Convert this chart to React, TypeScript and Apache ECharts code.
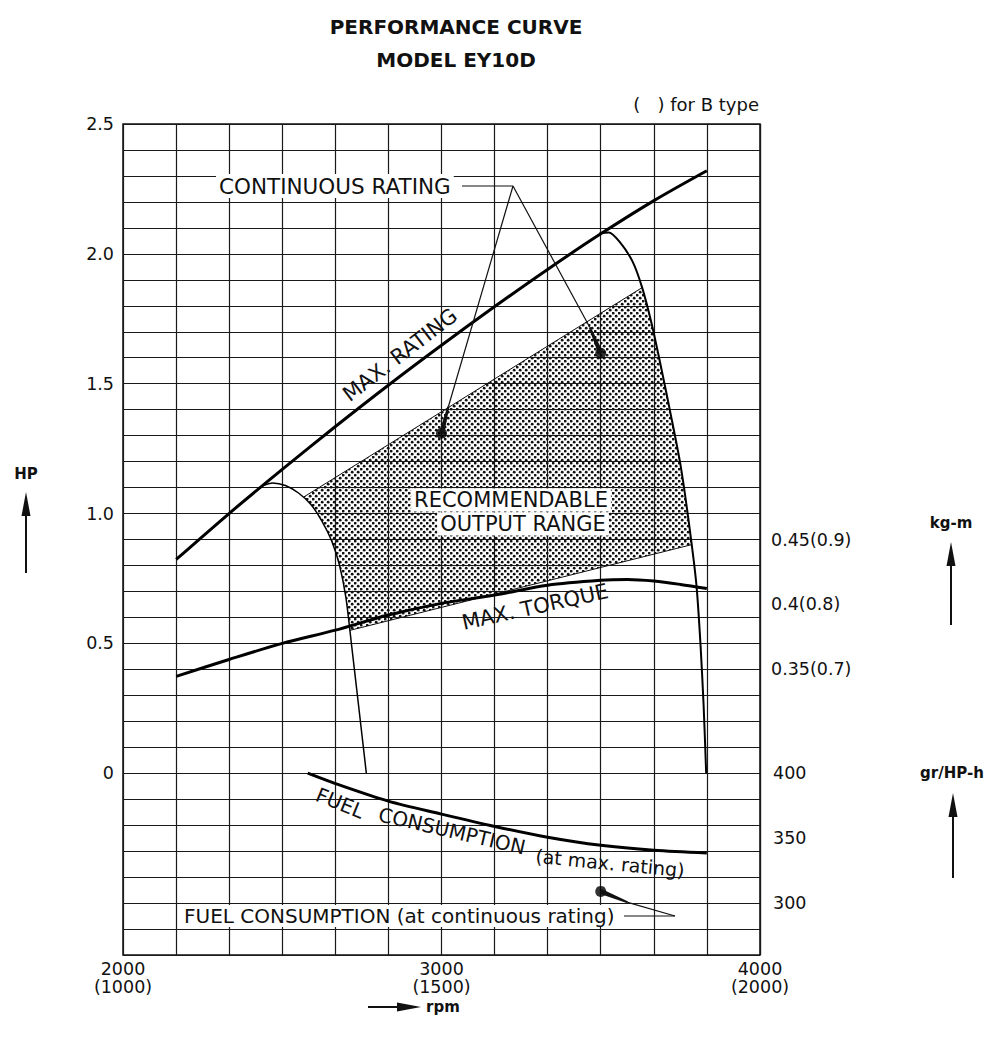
import React, { useEffect, useRef } from "react";
import * as echarts from "echarts";

const FONT = '"DejaVu Sans", "Liberation Sans", Arial, sans-serif';

// ---------- axes / tick labels ----------
const rpmTickValues = [2000, 3000, 4000];
const rpmTickLabels = ["2000\n(1000)", "3000\n(1500)", "4000\n(2000)"];
const hpTickValues = [0, 0.5, 1.0, 1.5, 2.0, 2.5];
const hpTickLabels = ["0", "0.5", "1.0", "1.5", "2.0", "2.5"];
const torqueTickValues = [0.35, 0.4, 0.45];
const torqueTickLabels = ["0.35(0.7)", "0.4(0.8)", "0.45(0.9)"];
const fuelTickValues = [300, 350, 400];
const fuelTickLabels = ["300", "350", "400"];

// ---------- series data ----------
// MAX. RATING (HP)
const maxRatingRpm = [2167, 2333, 2500, 2667, 2833, 3000, 3167, 3333, 3500, 3667, 3833];
const maxRatingHp = [0.823, 1.0, 1.17, 1.335, 1.494, 1.648, 1.797, 1.94, 2.077, 2.205, 2.32];

// governed output curve, low speed setting (HP)
const lowCurveRpm = [2435, 2470, 2510, 2550, 2590, 2625, 2655, 2680, 2700, 2718, 2735, 2750, 2764];
const lowCurveHp = [1.105, 1.118, 1.108, 1.08, 1.035, 0.97, 0.895, 0.8, 0.675, 0.49, 0.31, 0.15, 0.0];

// governed output curve, high speed setting (HP)
const highCurveRpm = [3496, 3525, 3560, 3600, 3630, 3660, 3690, 3720, 3750, 3775, 3800, 3813, 3823, 3831];
const highCurveHp = [2.079, 2.082, 2.045, 1.97, 1.87, 1.73, 1.56, 1.38, 1.19, 0.98, 0.73, 0.5, 0.26, 0.0];

// MAX. TORQUE (kg-m)
const torqueRpm = [2167, 2333, 2500, 2667, 2833, 3000, 3167, 3333, 3500, 3583, 3667, 3750, 3833];
const torqueKgm = [0.3446, 0.3576, 0.37, 0.3802, 0.3918, 0.4008, 0.4072, 0.4148, 0.4186, 0.4192, 0.418, 0.4154, 0.4122];

// FUEL CONSUMPTION at max. rating (gr/HP-h)
const fuelRpm = [2580, 2667, 2833, 3000, 3167, 3333, 3500, 3667, 3833];
const fuelMaxRating = [400, 392, 378.5, 368.5, 359, 350.7, 344.5, 340.7, 338.6];

// continuous rating points
const contRpm = [3000, 3500];
const contHp = [1.309, 1.617];
const contFuelRpm = [3500];
const contFuel = [309];

// RECOMMENDABLE OUTPUT RANGE (polygon, HP)
const rangeRpm = [2568, 3630, 3660, 3690, 3720, 3750, 3775, 3785, 2712, 2700, 2680, 2655, 2625, 2590];
const rangeHp = [1.064, 1.87, 1.73, 1.56, 1.38, 1.19, 0.98, 0.88, 0.55, 0.675, 0.8, 0.895, 0.97, 1.035];
const rangeUpperRpm = [2568, 3630];
const rangeUpperHp = [1.064, 1.87];
const rangeLowerRpm = [2712, 3785];
const rangeLowerHp = [0.55, 0.88];

const zip = (a: number[], b: number[]) => a.map((v, i) => [v, b[i]]);
const pick = (vals: number[], labels: string[], v: number, eps: number) => {
  for (let i = 0; i < vals.length; i++) if (Math.abs(vals[i] - v) < eps) return labels[i];
  return "";
};

function makePattern() {
  const c = document.createElement("canvas");
  c.width = 6;
  c.height = 6;
  const ctx = c.getContext("2d")!;
  ctx.fillStyle = "#111";
  ctx.beginPath();
  ctx.arc(1.2, 1.2, 1.4, 0, Math.PI * 2);
  ctx.fill();
  ctx.beginPath();
  ctx.arc(4.2, 4.2, 1.4, 0, Math.PI * 2);
  ctx.fill();
  return { image: c.toDataURL(), repeat: "repeat", imageWidth: 6, imageHeight: 6 };
}

export default function App() {
  const ref = useRef<HTMLDivElement>(null);
  useEffect(() => {
    if (!ref.current) return;
    const chart = echarts.init(ref.current, null, { renderer: "svg" });
    const pattern = makePattern();
    const labelStyle = { fontFamily: FONT, fontSize: 17.5, color: "#111" };
    const option: any = {
      animation: false,
      backgroundColor: "#fff",
      grid: { left: 123, right: 229, top: 124, bottom: 83, show: true, borderColor: "#111", borderWidth: 1.5, backgroundColor: "transparent" },
      xAxis: {
        type: "value",
        min: 2000,
        max: 4000,
        interval: 2000 / 12,
        axisLine: { show: false },
        axisTick: { show: false },
        splitLine: { show: true, lineStyle: { color: "#1a1a1a", width: 1.2 } },
        axisLabel: {
          ...labelStyle,
          margin: 5,
          lineHeight: 18,
          showMinLabel: true,
          showMaxLabel: true,
          formatter: (v: number) => pick(rpmTickValues, rpmTickLabels, v, 1),
        },
      },
      yAxis: [
        {
          type: "value",
          min: -0.7,
          max: 2.5,
          interval: 0.1,
          axisLine: { show: false },
          axisTick: { show: false },
          splitLine: { show: true, lineStyle: { color: "#1a1a1a", width: 1.2 } },
          axisLabel: {
            ...labelStyle,
            margin: 9,
            showMinLabel: true,
            showMaxLabel: true,
            formatter: (v: number) => pick(hpTickValues, hpTickLabels, v, 0.001),
          },
        },
        {
          type: "value",
          position: "right",
          min: 0.13,
          max: 0.77,
          interval: 0.01,
          axisLine: { show: false },
          axisTick: { show: false },
          splitLine: { show: false },
          axisLabel: {
            ...labelStyle,
            margin: 11,
            formatter: (v: number) => pick(torqueTickValues, torqueTickLabels, v, 0.0005),
          },
        },
        {
          type: "value",
          position: "right",
          min: 260,
          max: 900,
          interval: 10,
          axisLine: { show: false },
          axisTick: { show: false },
          splitLine: { show: false },
          axisLabel: {
            ...labelStyle,
            margin: 13,
            formatter: (v: number) => pick(fuelTickValues, fuelTickLabels, v, 0.5),
          },
        },
      ],
      series: [
        {
          type: "custom",
          name: "RECOMMENDABLE OUTPUT RANGE",
          yAxisIndex: 0,
          data: zip(rangeRpm, rangeHp),
          encode: { x: 0, y: 1 },
          z: 1,
          renderItem: (params: any, api: any) => {
            if (params.dataIndex !== 0) return null;
            const pts = rangeRpm.map((r, i) => api.coord([r, rangeHp[i]]));
            return { type: "polygon", shape: { points: pts }, style: { fill: pattern, stroke: null } };
          },
        },
        {
          type: "line",
          name: "range upper",
          data: zip(rangeUpperRpm, rangeUpperHp),
          symbol: "none",
          lineStyle: { color: "#111", width: 1 },
          z: 3,
        },
        {
          type: "line",
          name: "range lower",
          data: zip(rangeLowerRpm, rangeLowerHp),
          symbol: "none",
          lineStyle: { color: "#111", width: 1 },
          z: 3,
        },
        {
          type: "line",
          name: "MAX. RATING",
          data: zip(maxRatingRpm, maxRatingHp),
          symbol: "none",
          smooth: 0.3,
          lineStyle: { color: "#000", width: 3 },
          z: 4,
        },
        {
          type: "line",
          name: "low setting",
          data: zip(lowCurveRpm, lowCurveHp),
          symbol: "none",
          smooth: 0.25,
          lineStyle: { color: "#000", width: 1.5 },
          z: 4,
        },
        {
          type: "line",
          name: "high setting",
          data: zip(highCurveRpm, highCurveHp),
          symbol: "none",
          smooth: 0.25,
          lineStyle: { color: "#000", width: 2 },
          z: 4,
        },
        {
          type: "line",
          name: "MAX. TORQUE",
          yAxisIndex: 1,
          data: zip(torqueRpm, torqueKgm),
          symbol: "none",
          smooth: 0.3,
          lineStyle: { color: "#000", width: 3 },
          z: 4,
        },
        {
          type: "line",
          name: "FUEL CONSUMPTION (at max. rating)",
          yAxisIndex: 2,
          data: zip(fuelRpm, fuelMaxRating),
          symbol: "none",
          smooth: 0.3,
          lineStyle: { color: "#000", width: 3 },
          z: 4,
        },
        {
          type: "scatter",
          name: "CONTINUOUS RATING",
          data: zip(contRpm, contHp),
          symbol: "circle",
          symbolSize: 11,
          itemStyle: { color: "#000" },
          z: 6,
        },
        {
          type: "scatter",
          name: "FUEL CONSUMPTION (at continuous rating)",
          yAxisIndex: 2,
          data: zip(contFuelRpm, contFuel),
          symbol: "circle",
          symbolSize: 11,
          itemStyle: { color: "#000" },
          z: 6,
        },
      ],
    };
    chart.setOption(option);

    const px = (x: number, y: number, yi = 0) =>
      chart.convertToPixel({ xAxisIndex: 0, yAxisIndex: yi } as any, [x, y]) as number[];

    const txt = (text: string, x: number, y: number, o: any = {}) => ({
      type: "text",
      x,
      y,
      rotation: o.rot || 0,
      z: 50,
      style: {
        text,
        x: 0,
        y: 0,
        font: `${o.weight || "normal"} ${o.size || 20}px ${FONT}`,
        fill: "#111",
        align: o.align || "center",
        verticalAlign: "middle",
        backgroundColor: o.bg || undefined,
        padding: o.bg ? [1, 3, 1, 3] : undefined,
      },
    });
    const ln = (x1: number, y1: number, x2: number, y2: number, w = 1) => ({
      type: "line",
      z: 40,
      shape: { x1, y1, x2, y2 },
      style: { stroke: "#111", lineWidth: w },
    });
    const wedge = (x1: number, y1: number, x2: number, y2: number, w1: number, w2: number) => {
      const dx = x2 - x1, dy = y2 - y1;
      const L = Math.hypot(dx, dy) || 1;
      const nx = -dy / L, ny = dx / L;
      return {
        type: "polygon",
        z: 41,
        shape: {
          points: [
            [x1 + nx * w1, y1 + ny * w1],
            [x2 + nx * w2, y2 + ny * w2],
            [x2 - nx * w2, y2 - ny * w2],
            [x1 - nx * w1, y1 - ny * w1],
          ],
        },
        style: { fill: "#111" },
      };
    };
    const arrow = (x1: number, y1: number, x2: number, y2: number) => {
      const dx = x2 - x1, dy = y2 - y1;
      const L = Math.hypot(dx, dy);
      const ux = dx / L, uy = dy / L;
      const hl = 24, hw = 4.5;
      const bx = x2 - ux * hl, by = y2 - uy * hl;
      return [
        ln(x1, y1, bx, by, 2),
        {
          type: "polygon",
          z: 41,
          shape: { points: [[x2, y2], [bx - uy * hw, by + ux * hw], [bx + uy * hw, by - ux * hw]] },
          style: { fill: "#111" },
        },
      ];
    };

    const c1 = px(contRpm[0], contHp[0]);
    const c2 = px(contRpm[1], contHp[1]);
    const cf = px(contFuelRpm[0], contFuel[0], 2);
    const apex = [513, 186];
    const l1 = [c1[0] + 7, c1[1] - 27];
    const l2 = [c2[0] - 11, c2[1] - 26];
    const lf = [cf[0] + 27, cf[1] + 11];
    const lfEnd = [675, 916];

    const graphic: any[] = [
      txt("PERFORMANCE CURVE", 456, 27, { weight: "bold", size: 20 }),
      txt("MODEL EY10D", 456, 60, { weight: "bold", size: 20 }),
      txt("(   ) for B type", 759, 104, { size: 18, align: "right" }),
      txt("HP", 26, 474, { weight: "bold", size: 15 }),
      ...arrow(26, 573, 26, 492),
      txt("kg-m", 951, 523, { weight: "bold", size: 15 }),
      ...arrow(951, 625, 951, 542),
      txt("gr/HP-h", 952, 773, { weight: "bold", size: 15 }),
      ...arrow(953, 878, 953, 793),
      ...arrow(368, 1007, 421, 1007),
      txt("rpm", 426, 1007, { weight: "bold", size: 15, align: "left" }),

      txt("CONTINUOUS RATING", 216, 186, { size: 21.5, align: "left", bg: "#fff" }),
      ln(462, apex[1], apex[0], apex[1], 1.2),
      ln(apex[0], apex[1], l1[0], l1[1], 1.2),
      ln(apex[0], apex[1], l2[0], l2[1], 1.2),
      wedge(l1[0], l1[1], c1[0], c1[1], 1, 2.6),
      wedge(l2[0], l2[1], c2[0], c2[1], 1, 2.6),

      txt("RECOMMENDABLE", 511, 500, { size: 21, bg: "#fff" }),
      txt("OUTPUT RANGE", 523, 524, { size: 21, bg: "#fff" }),

      txt("MAX. RATING", 400, 355, { size: 21, rot: (37.5 * Math.PI) / 180 }),
      txt("MAX. TORQUE", 535, 607, { size: 21, rot: (12.5 * Math.PI) / 180 }),

      txt("FUEL", 340, 803, { size: 20, rot: (-22 * Math.PI) / 180 }),
      txt("CONSUMPTION", 452, 831, { size: 20, rot: (-13 * Math.PI) / 180 }),
      txt("(at max. rating)", 610, 863, { size: 19, rot: (-5.5 * Math.PI) / 180 }),

      txt("FUEL CONSUMPTION (at continuous rating)", 181, 916, { size: 20, align: "left", bg: "#fff" }),
      ln(624, lfEnd[1], lfEnd[0], lfEnd[1], 1.2),
      ln(lf[0], lf[1], lfEnd[0], lfEnd[1], 1.2),
      wedge(lf[0], lf[1], cf[0], cf[1], 1, 2.6),
    ];
    chart.setOption({ graphic });
    return () => chart.dispose();
  }, []);
  return (
    <div
      ref={ref}
      style={{ position: "fixed", left: 0, top: 0, width: 989, height: 1038, background: "#fff" }}
    />
  );
}
